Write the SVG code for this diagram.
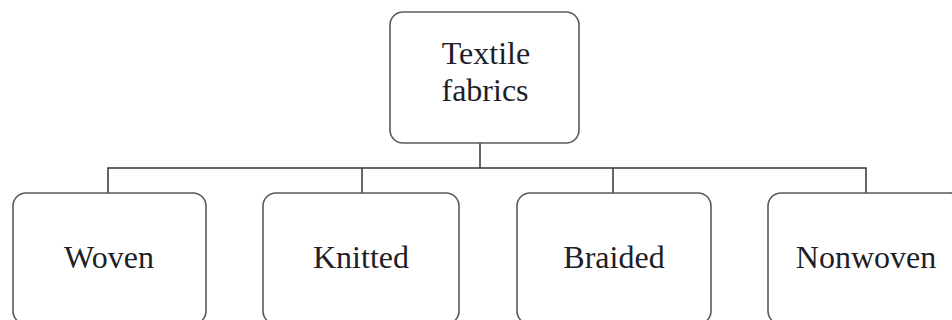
<svg xmlns="http://www.w3.org/2000/svg" width="952" height="320" viewBox="0 0 952 320">
<style>
.box{fill:#fff;stroke:#5a5a5a;stroke-width:1.6}
.lbl{font-family:"Liberation Serif","Times New Roman",serif;font-size:32px;fill:#1e1e28;text-anchor:middle}
.con{fill:none;stroke:#333;stroke-width:1.5}
</style>
<rect width="952" height="320" fill="#fff"/>
<g id="connectors">
<line class="con" x1="480" y1="143" x2="480" y2="168"/>
<polyline class="con" points="108,193 108,168 866,168 866,193"/>
<line class="con" x1="362" y1="168" x2="362" y2="193"/>
<line class="con" x1="613" y1="168" x2="613" y2="193"/>
</g>
<g id="textile">
<rect class="box" x="390" y="12" width="189" height="131" rx="13"/>
<text class="lbl" x="486" y="64">Textile</text>
<text class="lbl" x="485" y="101">fabrics</text>
</g>
<g id="woven">
<rect class="box" x="13" y="193" width="193" height="131" rx="13"/>
<text class="lbl" x="109" y="268">Woven</text>
</g>
<g id="knitted">
<rect class="box" x="263" y="193" width="196" height="131" rx="13"/>
<text class="lbl" x="361" y="268">Knitted</text>
</g>
<g id="braided">
<rect class="box" x="517" y="193" width="194" height="131" rx="13"/>
<text class="lbl" x="614" y="268">Braided</text>
</g>
<g id="nonwoven">
<rect class="box" x="768" y="193" width="195" height="131" rx="13"/>
<text class="lbl" x="866" y="268">Nonwoven</text>
</g>
</svg>
